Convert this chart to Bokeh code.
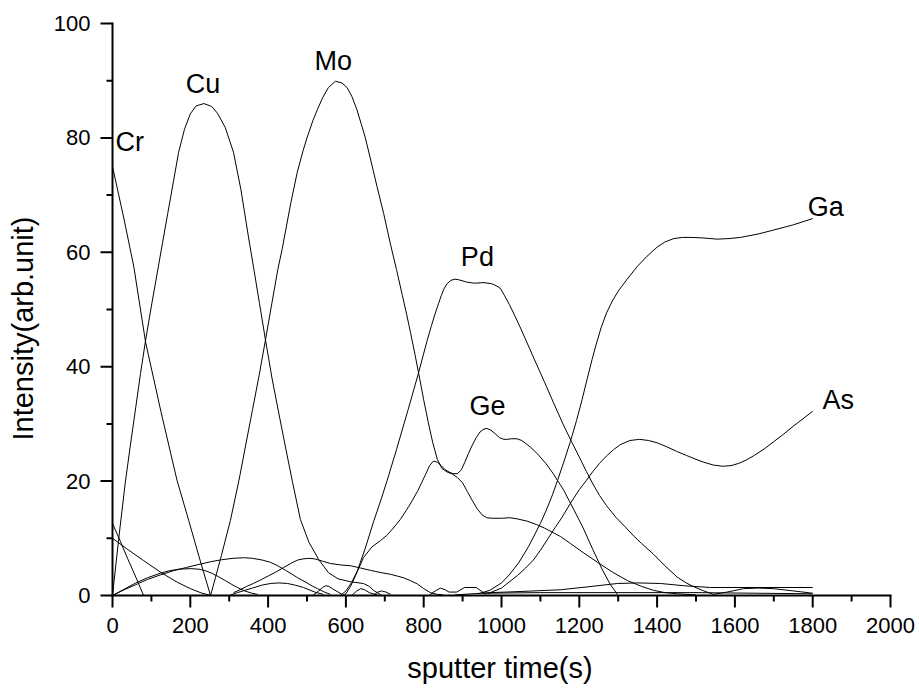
import math
from bokeh.plotting import figure
from bokeh.models import Range1d
from bokeh.core.properties import value
from bokeh.embed import file_html
from bokeh.resources import INLINE

# ---- data (sputter time s, intensity arb. unit) ----
cr_x = [0, 29, 55, 85, 125, 166, 196, 225, 252]
cr_y = [75, 66, 57.4, 44.3, 32, 20.1, 13.1, 6.2, 0]

cu_x = [0, 10, 20, 33, 45, 60, 72, 85, 100, 115, 128, 142, 157, 170, 185, 200, 215, 235, 255, 270, 290, 311, 330, 350,
        363, 378, 393, 410, 430, 446, 462, 483, 505, 530, 555, 580, 612, 645, 660, 671, 690]
cu_y = [0, 6.2, 12.3, 19.8, 25.8, 33, 38.8, 44.6, 50.6, 56.4, 61.4, 66.8, 72.5, 77.5, 81.5, 84.2, 85.6, 86, 85.5, 84.3, 81.8, 77.5, 71, 62.5,
        57.2, 51, 44.8, 38, 31, 25.5, 20.1, 13.3, 9.3, 6.3, 4.0, 2.9, 2.4, 2.1, 1.6, 0.9, 0.1]

mo_x = [252, 265, 280, 303, 325, 343, 360, 377, 393, 410, 425, 436, 458, 475, 490, 500, 515, 527, 540, 555, 573, 590, 603, 615,
        628, 640, 650, 665, 680, 697, 715, 730, 745, 756, 766, 778, 790, 800, 812, 823, 835, 847, 860, 875, 887, 900, 912,
        925, 937, 950, 962, 975, 1000, 1021, 1040, 1066, 1090, 1110, 1130, 1152, 1177, 1210, 1247, 1285, 1324, 1360, 1391,
        1420, 1452, 1500]
mo_y = [0, 3.2, 7, 13.1, 20.1, 26.5, 32.5, 38.5, 44.6, 51.2, 57, 60.5, 68.5, 74, 77.8, 80, 83, 85, 87, 88.8, 89.9, 89.6, 88.8, 87.3,
        85, 82.3, 80, 75.8, 71.5, 66.8, 61.3, 57, 52.5, 49.2, 46, 42, 37.8, 34.2, 30.2, 26.8, 23.8, 22.2, 21.6, 21.2, 20.6, 19.7, 18.2,
        16.6, 15.2, 14.1, 13.6, 13.5, 13.5, 13.6, 13.4, 13.0, 12.4, 11.8, 11.1, 10.3, 9.1, 7.5, 5.8, 4.1, 2.6, 1.6, 0.9,
        0.5, 0.3, 0.1]

pd_x = [586, 600, 615, 630, 650, 672, 690, 706, 730, 760, 785, 809, 820, 830, 838, 845, 852, 860, 870, 880, 890, 910, 930,
        955, 975, 988, 997, 1008, 1020, 1035, 1050, 1063, 1085, 1110, 1135, 1158, 1180, 1200, 1218, 1235, 1252, 1270, 1295,
        1318, 1340, 1360, 1391, 1420, 1452, 1475, 1492, 1520, 1545, 1580, 1622, 1660, 1699, 1750, 1800]
pd_y = [0, 0.8, 2.3, 4.4, 8.3, 13.1, 16.7, 20.1, 25.5, 32.5, 38.5, 44.6, 47.2, 49.4, 51, 52.4, 53.6, 54.5, 55.1, 55.3, 55.2, 54.8, 54.6,
        54.7, 54.5, 54.1, 53.7, 52.4, 50.9, 48.8, 46.6, 44.6, 41.2, 37.4, 33.5, 30, 26.9, 24.2, 21.7, 19.5, 17.5, 15.7, 13.6,
        12, 10.4, 9.1, 7.2, 5.2, 3.2, 2.2, 1.6, 0.8, 0.2, 0.6, 1.2, 1.3, 1.2, 0.8, 0.4]

ge_x = [590, 600, 612, 625, 645, 667, 689, 705, 722, 740, 762, 784, 805, 815, 825, 835, 845, 855, 865, 875, 887, 897, 905,
        915, 925, 935, 945, 955, 963, 973, 985, 995, 1006, 1015, 1025, 1040, 1052, 1062, 1075, 1092, 1115, 1134, 1160, 1186,
        1210, 1235, 1260, 1280, 1298]
ge_y = [0, 0.3, 1.6, 3.5, 6.6, 8.5, 9.6, 10.5, 11.8, 13.3, 15.6, 18.2, 21.2, 22.7, 23.5, 23.3, 22.7, 22, 21.6, 21.3, 21.3, 22, 23.2,
        24.8, 26.3, 27.6, 28.6, 29.1, 29.2, 28.9, 28.2, 27.6, 27.3, 27.3, 27.4, 27.4, 27.1, 26.6, 25.9, 24.8, 23, 21.2, 18.4, 15,
        11.8, 8, 4.4, 1.9, 0.2]

ga_x = [940, 970, 1000, 1020, 1045, 1070, 1100, 1115, 1131, 1145, 1160, 1177, 1193, 1207, 1220, 1233, 1243, 1256, 1270, 1285,
        1300, 1323, 1350, 1374, 1400, 1420, 1443, 1465, 1490, 1520, 1555, 1585, 1614, 1660, 1700, 1750, 1800]
ga_y = [0.3, 0.9, 2.2, 3.6, 5.8, 8.6, 12.6, 14.9, 17.6, 20.3, 23.3, 26.9, 30.6, 34.2, 37.8, 41.3, 43.8, 46.8, 49.4, 51.5,
        53.2, 55.3, 57.6, 59.3, 60.9, 61.8, 62.4, 62.6, 62.6, 62.5, 62.3, 62.4, 62.6, 63.2, 63.9, 64.8, 65.9]

as_x = [964, 1000, 1041, 1062, 1082, 1100, 1120, 1138, 1155, 1178, 1200, 1218, 1234, 1252, 1270, 1288, 1306, 1330, 1355, 1378,
        1400, 1425, 1450, 1475, 1500, 1520, 1545, 1568, 1590, 1610, 1630, 1650, 1675, 1700, 1725, 1750, 1775, 1800]
as_y = [0.3, 1.3, 3.5, 4.8, 6.2, 7.9, 10, 11.9, 13.6, 16.2, 18.5, 20.1, 21.6, 23.1, 24.4, 25.5, 26.4, 27.1, 27.3, 27.1,
        26.7, 26, 25.2, 24.5, 23.8, 23.3, 22.8, 22.6, 22.7, 23.1, 23.7, 24.5, 25.6, 26.9, 28.2, 29.6, 30.9, 32.2]

# minor (unlabelled) traces near the baseline
e1_x = [0, 20, 40, 60, 80]
e1_y = [12.6, 9.5, 6.3, 3.2, 0]
e2_x = [0, 40, 80, 125, 167, 200, 230, 255]
e2_y = [10, 8, 6.1, 4, 2.3, 1.2, 0.4, 0]
f1_x = [0, 30, 60, 90, 123, 155, 190, 220, 252, 280, 310, 337, 360, 385, 406, 425, 445, 462, 476, 500, 515, 527, 545, 560]
f1_y = [0, 1, 1.9, 2.8, 3.6, 4.3, 4.9, 5.4, 5.9, 6.25, 6.5, 6.6, 6.5, 6.2, 5.8, 5.2, 4.4, 3.7, 3.1, 2.2, 1.6, 1.2, 0.6, 0.2]
f2_x = [0, 30, 60, 90, 123, 145, 170, 200, 222, 240, 255, 272, 290, 305, 321, 340, 358, 373]
f2_y = [0, 1.1, 2.2, 3.1, 3.9, 4.3, 4.6, 4.7, 4.6, 4.3, 3.9, 3.3, 2.6, 2.0, 1.4, 0.8, 0.4, 0.2]
f3_x = [311, 328, 345, 362, 380, 400, 420, 440, 458, 476, 490, 505, 520, 540, 560, 585, 612, 638, 663, 690, 715, 732, 748,
        766, 784, 800, 817, 835, 850]
f3_y = [0.5, 1, 1.6, 2.1, 2.7, 3.4, 4.1, 4.9, 5.6, 6.2, 6.4, 6.5, 6.4, 6.0, 5.6, 5.35, 5.2, 4.8, 4.4, 4.0, 3.7, 3.4, 3.1,
        2.6, 2.0, 1.2, 0.5, 0.2, 0.1]
f4_x = [300, 321, 340, 360, 383, 406, 428, 450, 470, 491, 520, 542]
f4_y = [0, 0.5, 0.9, 1.3, 1.8, 2.1, 2.2, 2.1, 1.8, 1.4, 0.6, 0.2]
f5_x = [515, 530, 540, 548, 556, 565, 590]
f5_y = [0, 0.8, 1.4, 1.7, 1.6, 1.2, 0.2]
f6_x = [615, 628, 638, 648, 660, 680]
f6_y = [0, 0.8, 1.2, 1.0, 0.5, 0.1]
f7_x = [670, 682, 692, 703, 715]
f7_y = [0, 0.6, 0.8, 0.6, 0.2]
f8_x = [815, 830, 843, 855, 865, 885, 905, 935, 960]
f8_y = [0.1, 0.8, 1.3, 1.0, 0.6, 0.6, 1.4, 1.4, 0.2]
l1_x = [880, 972, 1050, 1152, 1220, 1298, 1350, 1409, 1470, 1537, 1650, 1800]
l1_y = [0.1, 0.5, 0.7, 1.0, 1.5, 2.1, 2.2, 2.1, 1.7, 1.4, 1.4, 1.4]
l2_x = [950, 1100, 1300, 1500, 1650, 1800]
l2_y = [0.4, 0.5, 0.5, 0.5, 0.4, 0.3]

label_names = ["Cr", "Cu", "Mo", "Pd", "Ge", "Ga", "As"]
label_x = [7.7, 232.6, 567.7, 938, 964, 1787, 1825]
label_y = [79.2, 89.5, 93.5, 59.1, 33.2, 68.0, 34.2]
label_align = ["left", "center", "center", "center", "center", "left", "left"]

x_major_ticks = [0, 200, 400, 600, 800, 1000, 1200, 1400, 1600, 1800, 2000]
x_minor_ticks = [100, 300, 500, 700, 900, 1100, 1300, 1500, 1700, 1900]
y_major_ticks = [0, 20, 40, 60, 80, 100]
y_minor_ticks = [10, 30, 50, 70, 90]
x_tick_labels = ["0", "200", "400", "600", "800", "1000", "1200", "1400", "1600", "1800", "2000"]
y_tick_labels = ["0", "20", "40", "60", "80", "100"]
x_title = "sputter time(s)"
y_title = "Intensity(arb.unit)"

FONT = "Liberation Sans"

# ---- layout: the plot area spans 0..2000 x 0..100 at these pixel sizes inside a 919x691 canvas ----
W, H = 919, 691
LEFT, TOP, PW, PH = 112, 23, 778, 572
SX = PW / 2000.0          # pixels per second
SY = PH / 100.0           # pixels per intensity unit
XR = Range1d(-LEFT / SX, (W - LEFT) / SX)
YR = Range1d(-(H - TOP - PH) / SY, 100 + TOP / SY)

p = figure(width=W, height=H, x_range=XR, y_range=YR, x_axis_type=None, y_axis_type=None,
           output_backend="svg", toolbar_location=None, min_border=0)
p.title.visible = False
p.outline_line_color = None
p.background_fill_color = "white"
p.border_fill_color = "white"

# axis lines
p.segment(x0=[0, 0], y0=[0, 0], x1=[2000, 0], y1=[0, 100], line_color="black", line_width=2, line_cap="square")

# tick marks (outward: major 12 px, minor 6 px)
p.segment(x0=x_major_ticks, y0=[0] * len(x_major_ticks), x1=x_major_ticks,
          y1=[-12 / SY] * len(x_major_ticks), line_color="black", line_width=2)
p.segment(x0=x_minor_ticks, y0=[0] * len(x_minor_ticks), x1=x_minor_ticks,
          y1=[-6 / SY] * len(x_minor_ticks), line_color="black", line_width=2)
p.segment(x0=[0] * len(y_major_ticks), y0=y_major_ticks, x1=[-12 / SX] * len(y_major_ticks),
          y1=y_major_ticks, line_color="black", line_width=2)
p.segment(x0=[0] * len(y_minor_ticks), y0=y_minor_ticks, x1=[-6 / SX] * len(y_minor_ticks),
          y1=y_minor_ticks, line_color="black", line_width=2)

# tick labels
p.text(x=x_major_ticks, y=[-30 / SY] * len(x_major_ticks), text=x_tick_labels,
       text_font=value(FONT), text_font_size="22px", text_color="black",
       text_align="center", text_baseline="alphabetic")
p.text(x=[-22 / SX] * len(y_major_ticks), y=y_major_ticks, text=y_tick_labels,
       text_font=value(FONT), text_font_size="22px", text_color="black",
       text_align="right", text_baseline="alphabetic")

# axis titles
p.text(x=[(499.5 - LEFT) / SX], y=[-72.5 / SY], text=[x_title],
       text_font=value(FONT), text_font_size="29px", text_color="black",
       text_align="center", text_baseline="alphabetic")
p.text(x=[(22.5 - LEFT) / SX], y=[100 - (328 - TOP) / SY], text=[y_title], angle=math.pi / 2,
       text_font=value(FONT), text_font_size="29px", text_color="black",
       text_align="center", text_baseline="alphabetic")

series = [(cr_x, cr_y), (cu_x, cu_y), (mo_x, mo_y), (pd_x, pd_y), (ge_x, ge_y), (ga_x, ga_y), (as_x, as_y),
          (e1_x, e1_y), (e2_x, e2_y), (f1_x, f1_y), (f2_x, f2_y), (f3_x, f3_y), (f4_x, f4_y), (f5_x, f5_y),
          (f6_x, f6_y), (f7_x, f7_y), (f8_x, f8_y), (l1_x, l1_y), (l2_x, l2_y)]
for xs, ys in series:
    p.line(xs, ys, line_color="black", line_width=1, line_join="round")

for name, lx, ly, al in zip(label_names, label_x, label_y, label_align):
    p.text(x=[lx], y=[ly], text=[name], text_font=value(FONT), text_font_size="27px",
           text_color="black", text_align=al, text_baseline="alphabetic")

open("out.html", "w").write(file_html(p, INLINE))
